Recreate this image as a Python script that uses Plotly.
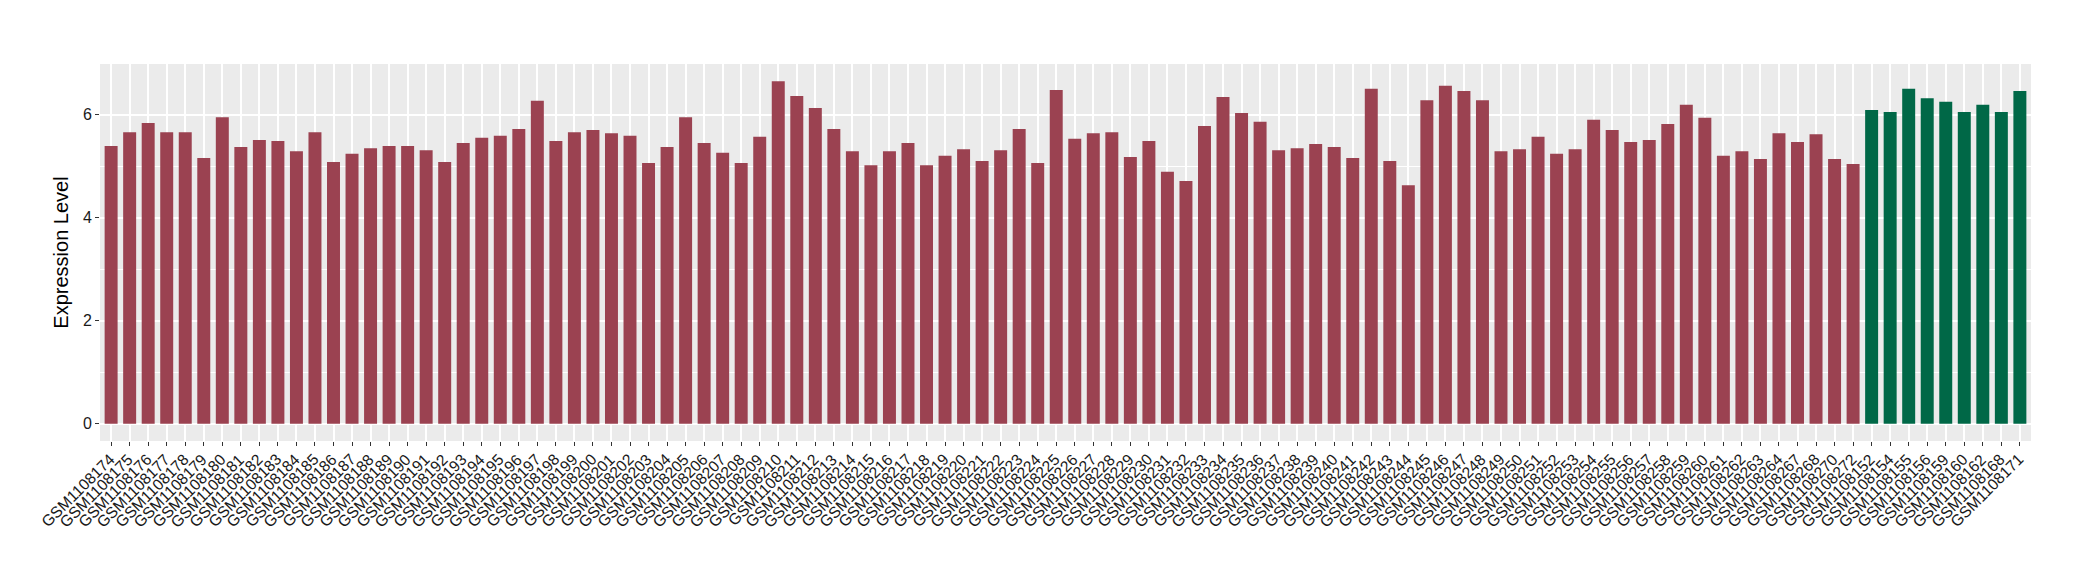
import plotly.graph_objects as go

red_ids = [str(n) for n in range(1108174, 1108265)] + ["1108267", "1108268", "1108270", "1108272"]
green_ids = ["1108152", "1108154", "1108155", "1108156", "1108159", "1108160", "1108162", "1108168", "1108171"]

red_labels = ["GSM" + s for s in red_ids]
green_labels = ["GSM" + s for s in green_ids]

red_values = [
    5.39, 5.66, 5.84, 5.66, 5.66, 5.16, 5.95, 5.37, 5.51, 5.49,
    5.29, 5.66, 5.08, 5.24, 5.35, 5.39, 5.39, 5.31, 5.08, 5.45,
    5.55, 5.59, 5.72, 6.27, 5.49, 5.66, 5.70, 5.64, 5.59, 5.06,
    5.37, 5.95, 5.45, 5.26, 5.06, 5.57, 6.65, 6.36, 6.13, 5.72,
    5.29, 5.02, 5.29, 5.45, 5.02, 5.20, 5.33, 5.10, 5.31, 5.72,
    5.06, 6.48, 5.53, 5.64, 5.66, 5.18, 5.49, 4.89, 4.71, 5.78,
    6.34, 6.03, 5.86, 5.31, 5.35, 5.43, 5.37, 5.16, 6.50, 5.10,
    4.63, 6.28, 6.56, 6.46, 6.28, 5.29, 5.33, 5.57, 5.24, 5.33,
    5.90, 5.70, 5.47, 5.51, 5.82, 6.19, 5.94, 5.20, 5.29, 5.14,
    5.64, 5.47, 5.62, 5.14, 5.04,
]
green_values = [6.09, 6.05, 6.50, 6.32, 6.25, 6.05, 6.19, 6.05, 6.46]

red_color = "#9B4251"
green_color = "#006847"

all_labels = red_labels + green_labels
all_values = red_values + green_values
n = len(all_labels)
ymax = max(all_values)

font_family = "Liberation Sans, Arial, sans-serif"

fig = go.Figure()
fig.add_trace(go.Bar(x=red_labels, y=red_values, marker=dict(color=red_color, line=dict(width=0)), showlegend=False))
fig.add_trace(go.Bar(x=green_labels, y=green_values, marker=dict(color=green_color, line=dict(width=0)), showlegend=False))

# rotated category labels (ggplot style: angle 45, hjust=1, vjust=1)
for lab in all_labels:
    fig.add_annotation(
        x=lab, xref="x", y=0, yref="paper",
        text=lab, textangle=-45, showarrow=False,
        xanchor="right", yanchor="top", xshift=8, yshift=-8,
        borderpad=0,
        font=dict(size=15.7, color="#1A1A1A", family=font_family),
    )

fig.update_layout(
    width=2080, height=580,
    margin=dict(l=92, r=57, t=56, b=147),
    paper_bgcolor="white",
    plot_bgcolor="#EBEBEB",
    bargap=0.3,
    barmode="group",
    font=dict(family=font_family, color="#1A1A1A"),
    xaxis=dict(
        type="category",
        categoryorder="array",
        categoryarray=all_labels,
        tickmode="array",
        tickvals=all_labels,
        showticklabels=False,
        range=[-0.6, n - 0.4],
        ticks="outside", ticklen=4, tickcolor="#333333", tickwidth=1,
        showgrid=True, gridcolor="white", gridwidth=1.5,
        zeroline=False, showline=False,
        automargin=False,
    ),
    yaxis=dict(
        range=[-0.05 * ymax, ymax * 1.05],
        tickmode="array", tickvals=[0, 2, 4, 6], ticktext=["0", "2", "4", "6"],
        tickfont=dict(size=16, color="#1A1A1A", family=font_family),
        ticks="outside", ticklen=4, tickcolor="#333333", tickwidth=1,
        showgrid=True, gridcolor="white", gridwidth=1.5,
        minor=dict(tickmode="array", tickvals=[1, 3, 5, 7], showgrid=True, gridcolor="white", gridwidth=0.7, ticks=""),
        zeroline=False, showline=False,
        automargin=False,
        title=dict(text="Expression Level", font=dict(size=20, color="black", family=font_family), standoff=8),
    ),
)

fig.write_html("out.html")
